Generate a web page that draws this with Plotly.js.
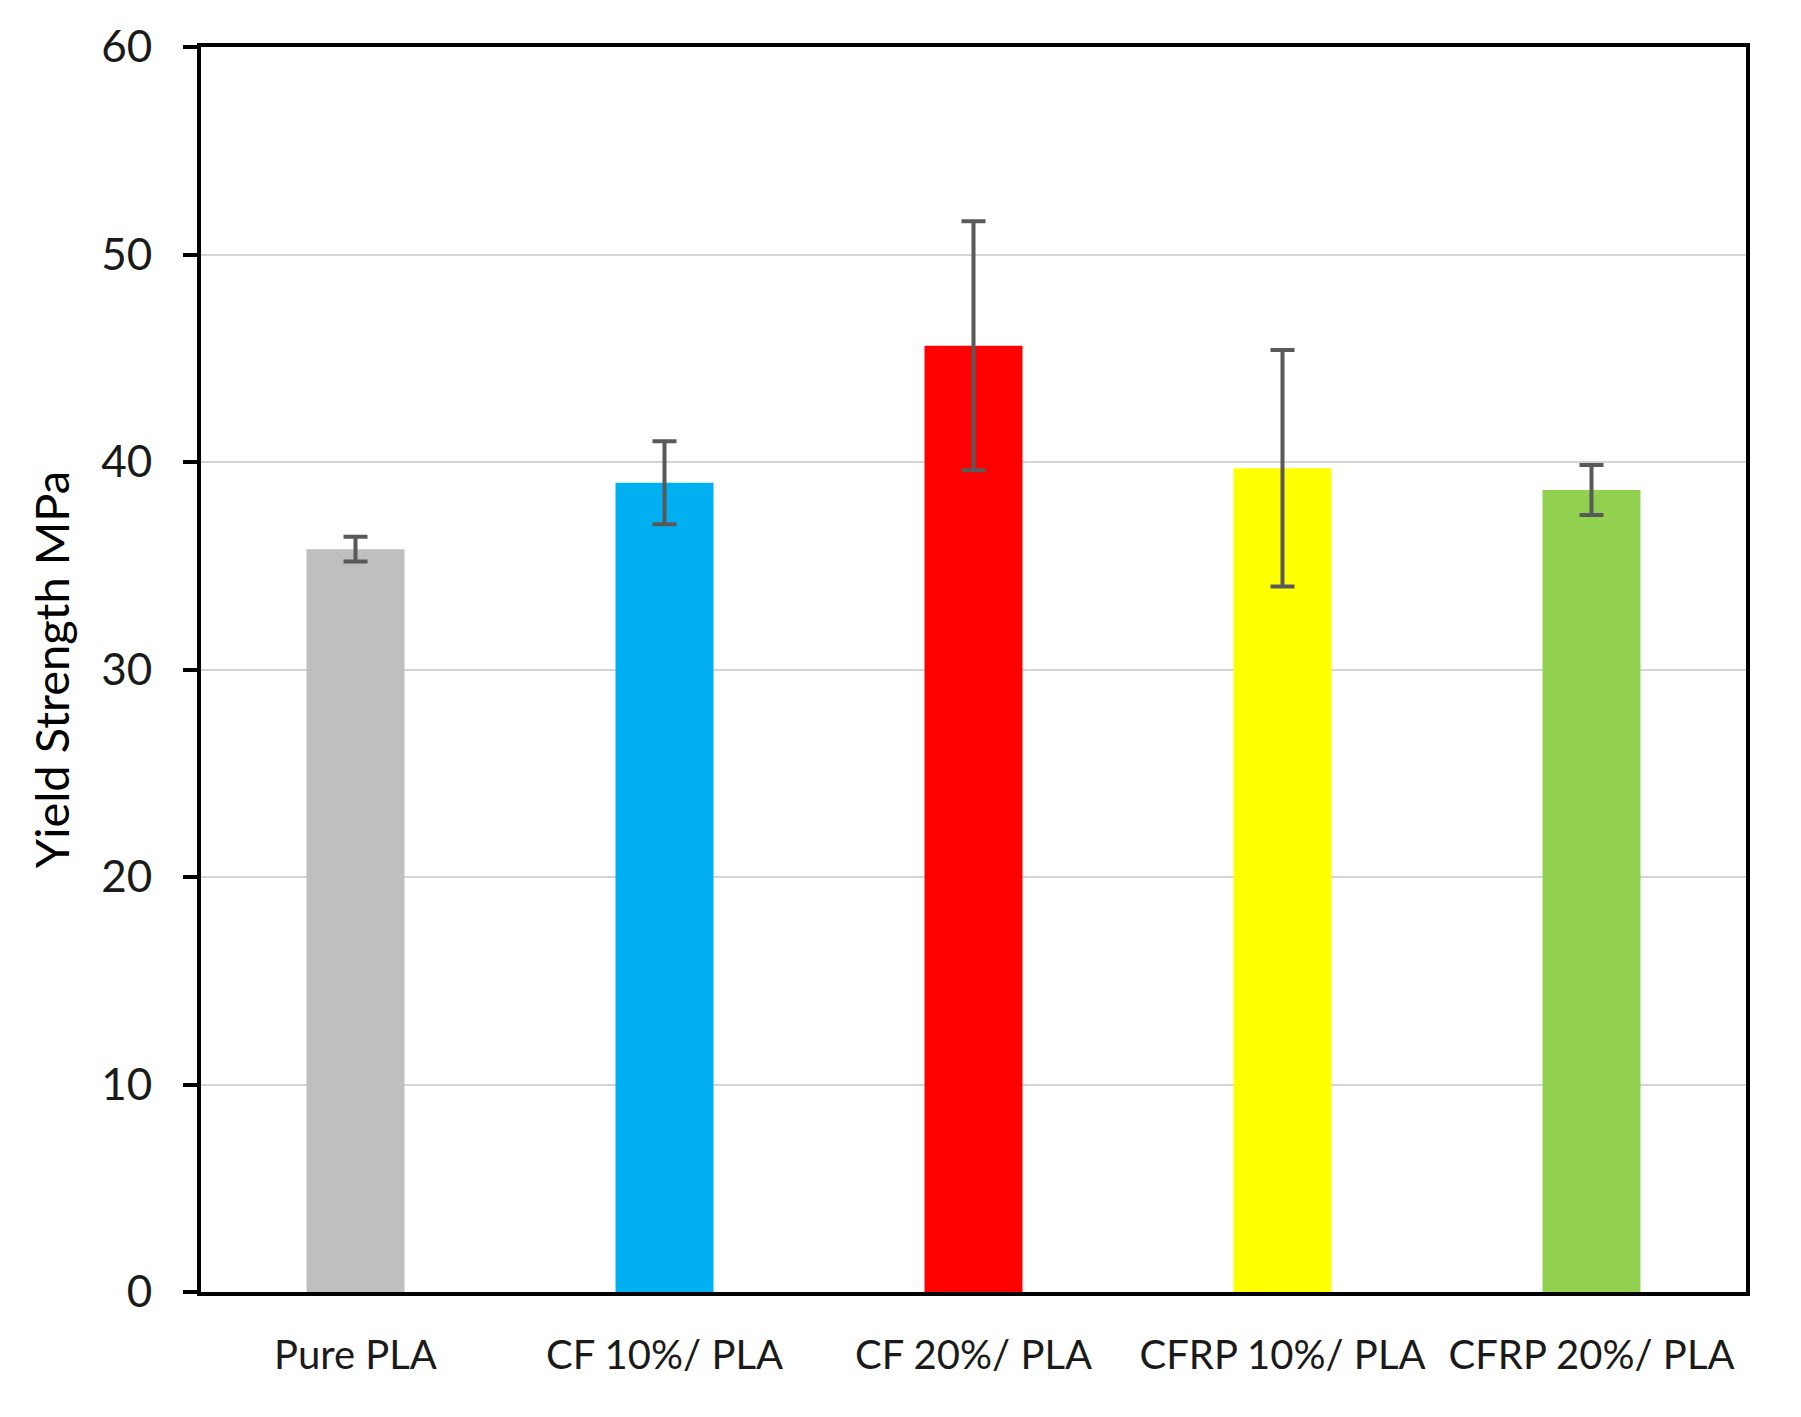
<!DOCTYPE html>
<html>
<head>
<meta charset="utf-8">
<script src="https://cdn.plot.ly/plotly-3.0.1.min.js"></script>
<style>
	html, body { margin: 0; padding: 0; background: #fff; }
	#graph { width: 1801px; height: 1417px; }
</style>
</head>
<body>
<div id="graph"></div>
<script>
const categories = ["Pure PLA", "CF 10%/ PLA", "CF 20%/ PLA", "CFRP 10%/ PLA", "CFRP 20%/ PLA"];
const yieldStrength = [35.8, 39.0, 45.6, 39.7, 38.65];
const yieldError = [0.6, 2.0, 6.0, 5.7, 1.2];
const barColors = ["#BFBFBF", "#00B0F0", "#FF0000", "#FFFF00", "#92D050"];
const yTicks = [0, 10, 20, 30, 40, 50, 60];

var trace = {
	x: categories,
	y: yieldStrength,
	type: 'bar',
	width: 0.317,
	marker: { color: barColors, line: { width: 0 } },
	error_y: {
		type: 'data',
		array: yieldError,
		visible: true,
		color: '#595959',
		thickness: 4,
		width: 12
	},
	hoverinfo: 'x+y'
};

var font = "Lato, 'Open Sans', sans-serif";

var layout = {
	width: 1801,
	height: 1417,
	margin: { l: 201, r: 55, t: 47, b: 125 },
	paper_bgcolor: '#fff',
	plot_bgcolor: '#fff',
	showlegend: false,
	font: { family: font, color: '#1a1a1a' },
	xaxis: {
		type: 'category',
		range: [-0.5, 4.5],
		showline: true,
		linecolor: '#000',
		linewidth: 4,
		mirror: true,
		ticks: '',
		showgrid: false,
		tickfont: { size: 40, family: font, color: '#1a1a1a' },
		ticklabelstandoff: 25,
		fixedrange: true
	},
	yaxis: {
		range: [0, 60],
		tickvals: yTicks,
		showline: true,
		linecolor: '#000',
		linewidth: 4,
		mirror: true,
		ticks: 'outside',
		ticklen: 14,
		tickwidth: 4,
		tickcolor: '#000',
		showgrid: true,
		gridcolor: '#D4D4D4',
		gridwidth: 2,
		zeroline: false,
		tickfont: { size: 44, family: font, color: '#1a1a1a' },
		ticklabelstandoff: 22,
		title: {
			text: 'Yield Strength MPa',
			font: { size: 47, family: font, color: '#000' },
			standoff: 18
		},
		automargin: true,
		fixedrange: true
	}
};

var config = { displayModeBar: false };
Plotly.newPlot('graph', [trace], layout, config);
</script>
</body>
</html>
